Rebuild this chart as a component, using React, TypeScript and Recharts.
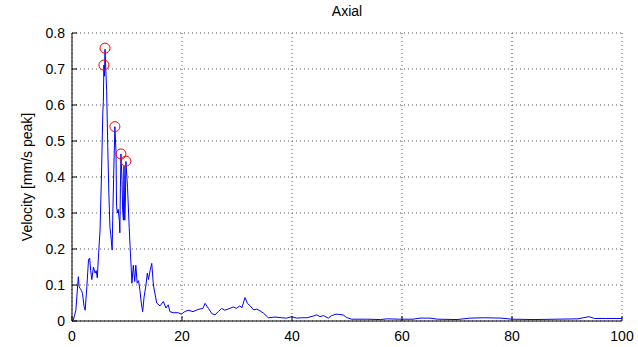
// Axial velocity spectrum with the main peaks circled
import { ComposedChart, Line, Scatter, XAxis, YAxis, CartesianGrid, Label } from "recharts";

const freqValues = [
  0, 0.25, 0.7, 1.15, 1.3, 1.5, 1.7, 1.9, 2.2, 2.4, 2.7, 3.0, 3.2, 3.4, 3.6, 3.9, 4.2, 4.4, 4.6, 4.85,
  5.1, 5.35, 5.6, 5.7, 5.8, 5.9, 6.0, 6.3, 6.5, 6.7, 6.9, 7.05, 7.3, 7.4, 7.6, 7.8, 8.0, 8.1, 8.25, 8.4,
  8.6, 8.7, 8.8, 8.9, 9.1, 9.2, 9.35, 9.45, 9.6, 9.7, 9.8, 10.1, 10.4, 10.55, 10.75, 10.9, 11.15, 11.4, 11.6, 11.85,
  12.1, 12.35, 12.6, 12.85, 13.1, 13.45, 13.7, 13.9, 14.2, 14.5, 14.8, 15.4, 16.0, 16.6, 17.1, 17.5, 17.8, 18.4, 19.3, 19.9,
  20.5, 21.1, 22.0, 22.9, 23.8, 24.2, 24.8, 25.4, 26.0, 26.6, 27.2, 27.8, 28.7, 29.3, 29.9, 30.5, 30.9, 31.45, 31.9, 32.4,
  33.0, 33.6, 34.2, 34.8, 35.7, 36.9, 38.1, 39.0, 39.9, 40.8, 41.7, 42.7, 43.9, 44.5, 45.1, 45.7, 46.6, 47.2, 48.0, 48.7,
  49.3, 49.9, 50.8, 53.6, 56.1, 57.3, 59.6, 62.0, 63.3, 65.1, 66.5, 70.0, 72.4, 75.0, 78.0, 80.0, 84.0, 88.0, 92.0, 94.0,
  95.0, 97.0, 100,
];

const velocityValues = [
  0, 0.003, 0.03, 0.123, 0.095, 0.09, 0.085, 0.077, 0.04, 0.03, 0.095, 0.17, 0.175, 0.14, 0.115, 0.15, 0.133, 0.14, 0.12, 0.19,
  0.253, 0.4, 0.578, 0.61, 0.711, 0.68, 0.755, 0.64, 0.485, 0.355, 0.26, 0.24, 0.197, 0.28, 0.42, 0.54, 0.47, 0.318, 0.3, 0.31,
  0.28, 0.245, 0.37, 0.464, 0.39, 0.31, 0.28, 0.43, 0.28, 0.33, 0.443, 0.37, 0.26, 0.21, 0.15, 0.105, 0.155, 0.11, 0.155, 0.105,
  0.112, 0.085, 0.05, 0.026, 0.066, 0.1, 0.133, 0.115, 0.14, 0.16, 0.1, 0.05, 0.042, 0.054, 0.036, 0.045, 0.026, 0.023, 0.023, 0.019,
  0.026, 0.03, 0.026, 0.032, 0.035, 0.049, 0.035, 0.021, 0.017, 0.026, 0.035, 0.03, 0.035, 0.039, 0.035, 0.042, 0.037, 0.065, 0.049, 0.042,
  0.031, 0.033, 0.028, 0.022, 0.009, 0.011, 0.009, 0.008, 0.012, 0.008, 0.009, 0.009, 0.014, 0.017, 0.012, 0.015, 0.008, 0.015, 0.019, 0.018,
  0.017, 0.01, 0.005, 0.005, 0.004, 0.006, 0.005, 0.005, 0.008, 0.008, 0.005, 0.004, 0.008, 0.009, 0.008, 0.005, 0.004, 0.005, 0.006, 0.012,
  0.007, 0.007, 0.007,
];

const peakFreqs = [5.8, 6.0, 7.8, 8.9, 9.8];
const peakValues = [0.711, 0.758, 0.54, 0.464, 0.444];

const xTicks = [0, 20, 40, 60, 80, 100];
const yTicks = [0, 0.1, 0.2, 0.3, 0.4, 0.5, 0.6, 0.7, 0.8];

const lineData = freqValues.map((f, i) => ({ f, v: velocityValues[i] }));
const peakData = peakFreqs.map((f, i) => ({ f, v: peakValues[i] }));

const FONT = "'Liberation Sans', Arial, sans-serif";
const tickStyle = { fontSize: 14, fill: "#000", fontFamily: FONT };

const PeakCircle = (props: any) => (
  <circle cx={props.cx} cy={props.cy} r={5} fill="none" stroke="#ff0000" strokeWidth={1} />
);

export default function App() {
  return (
    <div style={{ position: "absolute", left: 0, top: 0, width: 638, height: 347, background: "#fff" }}>
      <div style={{ position: "absolute", left: 72, width: 550, top: 3, textAlign: "center", fontFamily: FONT, fontSize: 14 }}>
        Axial
      </div>
      <ComposedChart width={638} height={347} margin={{ top: 33, right: 16, bottom: 0, left: 0 }}>
        <CartesianGrid stroke="#555" strokeDasharray="1 3" strokeWidth={1} />
        <XAxis dataKey="f" type="number" domain={[0, 100]} ticks={xTicks} height={26}
          stroke="#000" tick={tickStyle} tickSize={-5} tickMargin={15} allowDataOverflow />
        <XAxis xAxisId="top" orientation="top" type="number" domain={[0, 100]} ticks={xTicks} height={0}
          stroke="#000" tick={false} tickSize={-5} />
        <YAxis type="number" domain={[0, 0.8]} ticks={yTicks} width={72}
          stroke="#000" tick={tickStyle} tickSize={-5} tickMargin={12} allowDataOverflow>
          <Label value="Velocity [mm/s peak]" angle={-90} position="insideLeft" offset={27}
            style={{ textAnchor: "middle", fontSize: 14, fill: "#000", fontFamily: FONT }} />
        </YAxis>
        <YAxis yAxisId="right" orientation="right" type="number" domain={[0, 0.8]} ticks={yTicks} width={0}
          stroke="#000" tick={false} tickSize={-5} />
        <Line data={lineData} dataKey="v" type="linear" stroke="#0000ff" strokeWidth={1} dot={false} isAnimationActive={false} />
        <Scatter data={peakData} dataKey="v" shape={<PeakCircle />} isAnimationActive={false} />
      </ComposedChart>
    </div>
  );
}
